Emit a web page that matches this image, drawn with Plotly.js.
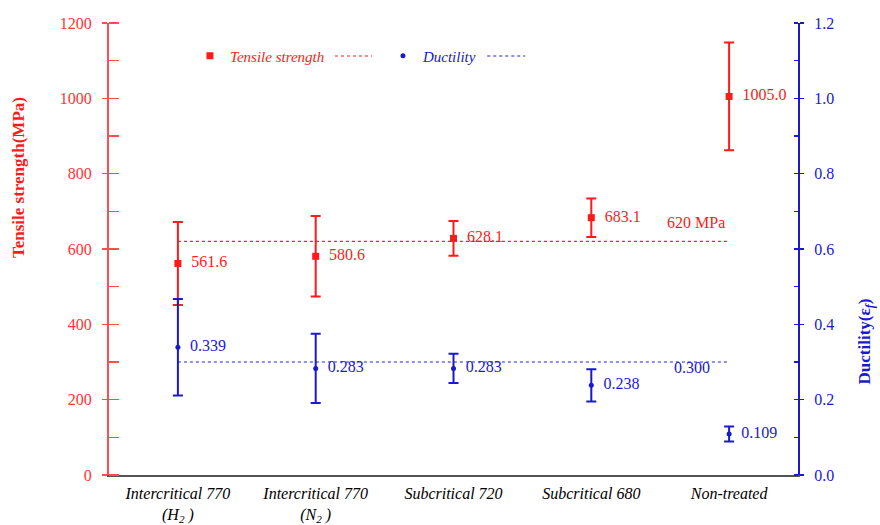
<!DOCTYPE html>
<html>
<head>
<meta charset="utf-8">
<script src="https://cdn.plot.ly/plotly-3.0.1.min.js"></script>
<style>html,body{margin:0;padding:0;background:#fff}#chart{width:880px;height:525px}</style>
</head>
<body>
<div id="chart"></div>
<script>
// ---- data ----
const categories = [
  "Intercritical 770<br>(H<sub>2</sub> )",
  "Intercritical 770<br>(N<sub>2</sub> )",
  "Subcritical 720",
  "Subcritical 680",
  "Non-treated"
];
const catIndex = [0, 1, 2, 3, 4];
const tensile = [561.6, 580.6, 628.1, 683.1, 1005.0];
const tensileErr = [110, 107, 46, 51, 143];
const ductility = [0.339, 0.283, 0.283, 0.238, 0.109];
const ductilityErr = [0.128, 0.092, 0.039, 0.043, 0.020];
const tensileRef = 620;
const ductilityRef = 0.300;
const refSpan = [0, 4];
const tensileTicks = [0, 200, 400, 600, 800, 1000, 1200];
const ductilityTicks = [0.0, 0.2, 0.4, 0.6, 0.8, 1.0, 1.2];

const RED = '#ff1a1a';
const BLUE = '#1a1acc';
const FONT = 'Liberation Serif, Times New Roman, serif';
const PAD = '\u00a0\u00a0';

const traces = [
  {
    x: refSpan, y: [tensileRef, tensileRef], mode: 'lines', yaxis: 'y',
    line: {color: '#ff2020', width: 1.2, dash: 'dot'}, showlegend: false, hoverinfo: 'skip'
  },
  {
    x: refSpan, y: [ductilityRef, ductilityRef], mode: 'lines', yaxis: 'y2',
    line: {color: '#2020e0', width: 1.2, dash: 'dot'}, showlegend: false, hoverinfo: 'skip'
  },
  {
    name: '<span style="color:' + RED + '"><i>Tensile strength</i></span>',
    x: catIndex, y: tensile, yaxis: 'y', mode: 'markers+text',
    marker: {symbol: 'square', size: 7, color: RED},
    error_y: {type: 'data', array: tensileErr, visible: true, color: RED, thickness: 2, width: 5},
    text: tensile.map(v => PAD + v.toFixed(1)), textposition: 'middle right',
    textfont: {family: FONT, size: 16, color: RED}
  },
  {
    name: '<span style="color:' + BLUE + '"><i>Ductility</i></span>',
    x: catIndex, y: ductility, yaxis: 'y2', mode: 'markers+text',
    marker: {symbol: 'circle', size: 5, color: BLUE},
    error_y: {type: 'data', array: ductilityErr, visible: true, color: BLUE, thickness: 2, width: 5},
    text: ductility.map(v => PAD + v.toFixed(3)), textposition: 'middle right',
    textfont: {family: FONT, size: 16, color: BLUE}
  }
];

const layout = {
  width: 880, height: 525,
  margin: {l: 109, r: 82, t: 23, b: 50},
  paper_bgcolor: '#fff', plot_bgcolor: '#fff',
  font: {family: FONT, size: 16, color: '#000'},
  showlegend: true,
  legend: {
    orientation: 'h', x: 0.1175, xanchor: 'left', y: 0.927, yanchor: 'middle',
    bgcolor: 'rgba(0,0,0,0)', font: {family: FONT, size: 15},
    entrywidth: 148, entrywidthmode: 'pixels'
  },
  xaxis: {
    range: [-0.5, 4.5], tickvals: catIndex, ticktext: categories,
    showgrid: false, zeroline: false, showline: true, linecolor: '#555', linewidth: 1.5,
    ticks: '', ticklabelstandoff: 3,
    tickfont: {family: FONT, size: 16, color: '#000', style: 'italic'}
  },
  yaxis: {
    range: [0, 1200], tickvals: tensileTicks, ticktext: tensileTicks.map(String),
    showgrid: false, zeroline: false, showline: true, linecolor: '#ff4d4d', linewidth: 2,
    ticks: 'outside', ticklen: 5, tickwidth: 1.5, tickcolor: '#ff4d4d', ticklabelstandoff: 7,
    minor: {dtick: 100, ticks: 'inside', ticklen: 10, tickwidth: 1.5, tickcolor: '#ff4d4d'},
    tickfont: {family: FONT, size: 16, color: '#ff3333'}
  },
  yaxis3: {
    range: [0, 1200], overlaying: 'y', side: 'left', anchor: 'x', tickvals: tensileTicks,
    showticklabels: false, showgrid: false, zeroline: false, showline: false,
    ticks: 'inside', ticklen: 5, tickwidth: 1.5, tickcolor: '#ff4d4d'
  },
  yaxis2: {
    range: [0, 1.2], overlaying: 'y', side: 'right', anchor: 'x',
    tickvals: ductilityTicks, ticktext: ductilityTicks.map(v => v.toFixed(1)),
    showgrid: false, zeroline: false, showline: true, linecolor: BLUE, linewidth: 2,
    ticks: 'outside', ticklen: 4, tickwidth: 1.5, tickcolor: BLUE, ticklabelstandoff: 7,
    minor: {dtick: 0.1, ticks: 'inside', ticklen: 4, tickwidth: 1.5, tickcolor: BLUE},
    tickfont: {family: FONT, size: 16, color: BLUE}
  },
  yaxis4: {
    range: [0, 1.2], overlaying: 'y', side: 'right', anchor: 'x', tickvals: ductilityTicks,
    showticklabels: false, showgrid: false, zeroline: false, showline: false,
    ticks: 'inside', ticklen: 4, tickwidth: 1.5, tickcolor: BLUE
  },
  annotations: [
    {x: refSpan[1], y: tensileRef, xref: 'x', yref: 'y', text: tensileRef + ' MPa',
     showarrow: false, xanchor: 'right', yanchor: 'bottom', xshift: -2, yshift: 8,
     font: {family: FONT, size: 16, color: RED}},
    {x: refSpan[1], y: ductilityRef, xref: 'x', yref: 'y2', text: ductilityRef.toFixed(3),
     showarrow: false, xanchor: 'right', yanchor: 'middle', xshift: -17, yshift: -5,
     font: {family: FONT, size: 16, color: BLUE}},
    {x: -0.132, y: 0.657, xref: 'paper', yref: 'paper', textangle: -90,
     text: '<b>Tensile strength(MPa)</b>', showarrow: false,
     xanchor: 'center', yanchor: 'middle', font: {family: FONT, size: 17, color: RED}},
    {x: 1.099, y: 0.296, xref: 'paper', yref: 'paper', textangle: -90,
     text: '<b>Ductility(ε<sub><i>f</i></sub>)</b>', showarrow: false,
     xanchor: 'center', yanchor: 'middle', font: {family: FONT, size: 17, color: BLUE}}
  ],
  shapes: [
    {type: 'line', xref: 'paper', yref: 'paper', x0: 0.328, x1: 0.382, y0: 0.927, y1: 0.927,
     line: {color: '#ff2020', width: 1.2, dash: 'dot'}},
    {type: 'line', xref: 'paper', yref: 'paper', x0: 0.549, x1: 0.604, y0: 0.927, y1: 0.927,
     line: {color: '#2020e0', width: 1.2, dash: 'dot'}}
  ]
};

Plotly.newPlot('chart', traces, layout, {displayModeBar: false, staticPlot: true});
</script>
</body>
</html>
